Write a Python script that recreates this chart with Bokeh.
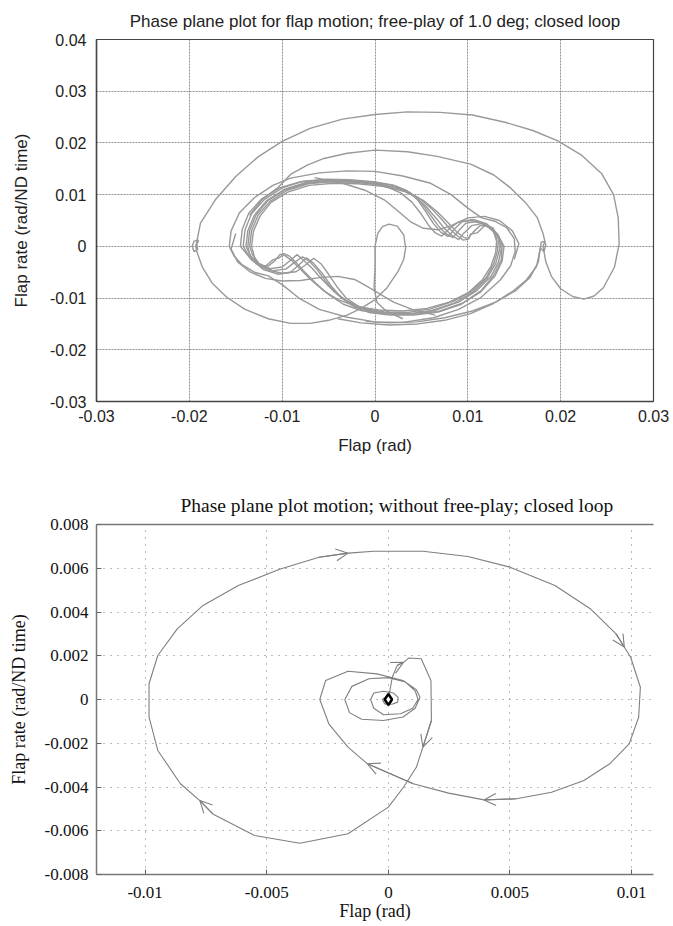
from bokeh.plotting import figure
from bokeh.layouts import column
from bokeh.models import FixedTicker, LinearAxis, Arrow, OpenHead, CustomJSTickFormatter
from bokeh.embed import file_html
from bokeh.resources import INLINE

# ---------------- text ----------------
TOP_TITLE = "Phase plane plot for flap motion; free-play of 1.0 deg; closed loop"
BOT_TITLE = "Phase plane plot motion; without free-play; closed loop"
X_LABEL = "Flap (rad)"
Y_LABEL = "Flap rate (rad/ND time)"

# ---------------- ticks ----------------
TOP_X_TICKS = [-0.03, -0.02, -0.01, 0.0, 0.01, 0.02, 0.03]
TOP_X_LABELS = ["-0.03", "-0.02", "-0.01", "0", "0.01", "0.02", "0.03"]
TOP_Y_TICKS = [-0.03, -0.02, -0.01, 0.0, 0.01, 0.02, 0.03, 0.04]
TOP_Y_LABELS = ["-0.03", "-0.02", "-0.01", "0", "0.01", "0.02", "0.03", "0.04"]
BOT_X_TICKS = [-0.01, -0.005, 0.0, 0.005, 0.01]
BOT_X_LABELS = ["-0.01", "-0.005", "0", "0.005", "0.01"]
BOT_Y_TICKS = [-0.008, -0.006, -0.004, -0.002, 0.0, 0.002, 0.004, 0.006, 0.008]
BOT_Y_LABELS = ["-0.008", "-0.006", "-0.004", "-0.002", "0", "0.002", "0.004", "0.006", "0.008"]

# ---------------- top plot: trajectory pieces (flap, flap rate) ----------------
# lower-left arc coming out of the centre loop to the left turning point
ARC_C_X = [0.0030, 0.0012, 0.0002, -0.0001, 0.0000, 0.0000, 0.0003, 0.0008, 0.0015, 0.0024, 0.0031,
           0.0033, 0.0031, 0.0025, 0.0013, 0.0000, -0.0015, -0.0030, -0.0050, -0.0070, -0.0091,
           -0.0115, -0.0140, -0.0160, -0.0175, -0.0186, -0.0192, -0.0193, -0.0190, -0.0195, -0.0197,
           -0.0195, -0.0191, -0.0192, -0.0193]
ARC_C_Y = [-0.0140, -0.0125, -0.0108, -0.0080, -0.0040, 0.0000, 0.0025, 0.0038, 0.0043, 0.0039, 0.0022,
           -0.0003, -0.0025, -0.0048, -0.0080, -0.0103, -0.0120, -0.0133, -0.0143, -0.0149, -0.0149,
           -0.0140, -0.0122, -0.0098, -0.0072, -0.0040, -0.0010, 0.0000, 0.0012, 0.0010, 0.0000,
           -0.0010, -0.0006, 0.0005, 0.0000]
# big outer excursion
ARC_A_X = [-0.0193, -0.0188, -0.0172, -0.0150, -0.0126, -0.0100, -0.0070, -0.0035, 0.0000, 0.0035,
           0.0070, 0.0105, 0.0140, 0.0170, 0.0197, 0.0222, 0.0244, 0.0257, 0.0262, 0.0263, 0.0258,
           0.0246, 0.0236, 0.0225, 0.0213, 0.0200, 0.0190, 0.0184, 0.0181, 0.0183, 0.0179, 0.0178,
           0.0174, 0.0163, 0.0149, 0.0128, 0.0103, 0.0075, 0.0046, 0.0015, -0.0015, -0.0040]
ARC_A_Y = [0.0000, 0.0045, 0.0090, 0.0135, 0.0173, 0.0203, 0.0228, 0.0246, 0.0255, 0.0260,
           0.0259, 0.0254, 0.0240, 0.0224, 0.0204, 0.0177, 0.0141, 0.0100, 0.0055, 0.0005, -0.0040,
           -0.0080, -0.0096, -0.0102, -0.0097, -0.0082, -0.0058, -0.0030, 0.0000, 0.0010, 0.0008, -0.0005,
           -0.0039, -0.0065, -0.0086, -0.0110, -0.0130, -0.0143, -0.0150, -0.0152, -0.0148, -0.0140]
# second large arc
ARC_B_X = [-0.0135, -0.0122, -0.0105, -0.0091, -0.0073, -0.0055, -0.0030, 0.0000, 0.0035, 0.0067,
           0.0103, 0.0128, 0.0146, 0.0162, 0.0175, 0.0181, 0.0184, 0.0182, 0.0178, 0.0176, 0.0167,
           0.0152, 0.0130, 0.0105, 0.0075, 0.0045, 0.0015, -0.0010]
ARC_B_Y = [0.0060, 0.0090, 0.0113, 0.0139, 0.0157, 0.0170, 0.0180, 0.0186, 0.0183, 0.0174,
           0.0159, 0.0138, 0.0113, 0.0085, 0.0055, 0.0025, 0.0002, -0.0010, -0.0003, -0.0030, -0.0060,
           -0.0085, -0.0108, -0.0125, -0.0138, -0.0146, -0.0148, -0.0145]
# wider loop around the band
LOOP_W_X = [-0.0157, -0.0155, -0.0146, -0.0130, -0.0110, -0.0091, -0.0060, -0.0030, 0.0000, 0.0030,
            0.0060, 0.0082, 0.0100, 0.0115, 0.0130, 0.0142, 0.0150, 0.0151, 0.0146, 0.0135, 0.0114,
            0.0090, 0.0063, 0.0030, 0.0000, -0.0030, -0.0060, -0.0082, -0.0100, -0.0115, -0.0130,
            -0.0143, -0.0152, -0.0157]
LOOP_W_Y = [0.0000, 0.0030, 0.0065, 0.0094, 0.0118, 0.0132, 0.0142, 0.0146, 0.0145, 0.0136,
            0.0122, 0.0100, 0.0074, 0.0055, 0.0048, 0.0036, 0.0015, -0.0010, -0.0038, -0.0065, -0.0099,
            -0.0122, -0.0138, -0.0147, -0.0146, -0.0137, -0.0122, -0.0100, -0.0074, -0.0057, -0.0050,
            -0.0036, -0.0018, 0.0000]
# thin cross-over curves
CROSS_LO_X = [-0.0150, -0.0155, -0.0148, -0.0134, -0.0118, -0.0100, -0.0080, -0.0058, -0.0040,
              -0.0022, -0.0008, 0.0005, 0.0020, 0.0040, 0.0065]
CROSS_LO_Y = [0.0025, -0.0005, -0.0030, -0.0050, -0.0062, -0.0067, -0.0066, -0.0060, -0.0058,
              -0.0064, -0.0078, -0.0092, -0.0108, -0.0122, -0.0133]
CROSS_HI_X = [0.0150, 0.0155, 0.0148, 0.0134, 0.0118, 0.0100, 0.0082, 0.0068, 0.0052, 0.0038,
              0.0025, 0.0010, -0.0010, -0.0035, -0.0065]
CROSS_HI_Y = [-0.0025, 0.0005, 0.0030, 0.0050, 0.0058, 0.0055, 0.0040, 0.0032, 0.0035, 0.0048,
              0.0068, 0.0090, 0.0108, 0.0122, 0.0133]

# dense limit-cycle band: successive cycles
BAND1_X = [-0.0139, -0.0137, -0.0130, -0.0117, -0.0098, -0.0075, -0.0050, -0.0025, 0.0000, 0.0022, 0.0038,
           0.0050, 0.0060, 0.0068, 0.0076, 0.0084, 0.0090, 0.0098, 0.0110, 0.0124, 0.0133, 0.0136, 0.0133,
           0.0125, 0.0110, 0.0090, 0.0065, 0.0040, 0.0015, -0.0008, -0.0025, -0.0040, -0.0052, -0.0062,
           -0.0070, -0.0078, -0.0086, -0.0096, -0.0110, -0.0124, -0.0134, -0.0139]
BAND1_Y = [0.0000, 0.0030, 0.0060, 0.0088, 0.0110, 0.0123, 0.0128, 0.0127, 0.0124, 0.0117, 0.0104,
           0.0084, 0.0060, 0.0040, 0.0025, 0.0017, 0.0030, 0.0045, 0.0048, 0.0038, 0.0018, -0.0005, -0.0030,
           -0.0058, -0.0085, -0.0108, -0.0123, -0.0130, -0.0130, -0.0124, -0.0112, -0.0094, -0.0070, -0.0046,
           -0.0030, -0.0020, -0.0030, -0.0044, -0.0047, -0.0037, -0.0018, 0.0000]
BAND2_X = [-0.0135, -0.0133, -0.0126, -0.0113, -0.0095, -0.0072, -0.0048, -0.0022, 0.0003, 0.0025, 0.0042,
           0.0055, 0.0066, 0.0075, 0.0083, 0.0090, 0.0096, 0.0104, 0.0115, 0.0126, 0.0131, 0.0132, 0.0128,
           0.0120, 0.0105, 0.0085, 0.0060, 0.0035, 0.0010, -0.0012, -0.0030, -0.0045, -0.0058, -0.0068,
           -0.0077, -0.0084, -0.0091, -0.0100, -0.0113, -0.0125, -0.0132, -0.0135]
BAND2_Y = [0.0000, 0.0030, 0.0060, 0.0087, 0.0108, 0.0121, 0.0126, 0.0125, 0.0121, 0.0113, 0.0098,
           0.0077, 0.0054, 0.0034, 0.0021, 0.0013, 0.0026, 0.0040, 0.0044, 0.0034, 0.0015, -0.0008, -0.0033,
           -0.0060, -0.0086, -0.0106, -0.0121, -0.0128, -0.0127, -0.0120, -0.0106, -0.0086, -0.0062, -0.0042,
           -0.0027, -0.0016, -0.0027, -0.0040, -0.0043, -0.0033, -0.0016, 0.0000]
BAND3_X = [-0.0142, -0.0140, -0.0133, -0.0119, -0.0100, -0.0077, -0.0052, -0.0027, -0.0002, 0.0019, 0.0034,
           0.0046, 0.0055, 0.0063, 0.0071, 0.0079, 0.0086, 0.0094, 0.0106, 0.0120, 0.0132, 0.0139, 0.0137,
           0.0129, 0.0114, 0.0093, 0.0068, 0.0042, 0.0016, -0.0006, -0.0022, -0.0036, -0.0047, -0.0057,
           -0.0066, -0.0074, -0.0082, -0.0091, -0.0104, -0.0120, -0.0134, -0.0142]
BAND3_Y = [0.0000, 0.0032, 0.0063, 0.0091, 0.0113, 0.0126, 0.0130, 0.0129, 0.0125, 0.0119, 0.0108,
           0.0090, 0.0066, 0.0044, 0.0027, 0.0019, 0.0034, 0.0048, 0.0052, 0.0044, 0.0024, 0.0000, -0.0028,
           -0.0058, -0.0088, -0.0112, -0.0127, -0.0133, -0.0133, -0.0128, -0.0117, -0.0100, -0.0077, -0.0052,
           -0.0033, -0.0022, -0.0036, -0.0050, -0.0054, -0.0045, -0.0024, 0.0000]
BAND4_X = [-0.0137, -0.0135, -0.0128, -0.0115, -0.0096, -0.0073, -0.0047, -0.0020, 0.0006, 0.0029, 0.0047,
           0.0061, 0.0072, 0.0081, 0.0089, 0.0095, 0.0101, 0.0103, 0.0110, 0.0118, 0.0127, 0.0133, 0.0134,
           0.0130, 0.0121, 0.0106, 0.0085, 0.0060, 0.0034, 0.0008, -0.0015, -0.0034, -0.0050, -0.0064,
           -0.0076, -0.0085, -0.0092, -0.0098, -0.0103, -0.0110, -0.0119, -0.0128, -0.0135, -0.0137]
BAND4_Y = [0.0000, 0.0031, 0.0061, 0.0089, 0.0110, 0.0122, 0.0125, 0.0124, 0.0119, 0.0110, 0.0094,
           0.0073, 0.0052, 0.0033, 0.0020, 0.0012, 0.0014, 0.0024, 0.0026, 0.0040, 0.0036, 0.0017, -0.0007,
           -0.0033, -0.0061, -0.0088, -0.0110, -0.0125, -0.0131, -0.0130, -0.0124, -0.0112, -0.0093, -0.0071,
           -0.0049, -0.0031, -0.0019, -0.0014, -0.0022, -0.0026, -0.0040, -0.0034, -0.0016, 0.0000]
BAND5_X = [-0.0145, -0.0143, -0.0136, -0.0122, -0.0103, -0.0080, -0.0055, -0.0030, -0.0006, 0.0013, 0.0028,
           0.0040, 0.0050, 0.0058, 0.0065, 0.0072, 0.0080, 0.0090, 0.0103, 0.0118, 0.0130, 0.0137, 0.0136,
           0.0128, 0.0114, 0.0094, 0.0070, 0.0045, 0.0020, -0.0002, -0.0018, -0.0031, -0.0041, -0.0050,
           -0.0058, -0.0066, -0.0075, -0.0085, -0.0100, -0.0117, -0.0133, -0.0145]
BAND5_Y = [0.0000, 0.0033, 0.0064, 0.0092, 0.0113, 0.0125, 0.0128, 0.0127, 0.0122, 0.0115, 0.0103,
           0.0085, 0.0062, 0.0040, 0.0026, 0.0020, 0.0034, 0.0047, 0.0050, 0.0043, 0.0025, 0.0002, -0.0026,
           -0.0056, -0.0086, -0.0110, -0.0125, -0.0131, -0.0131, -0.0126, -0.0116, -0.0100, -0.0078, -0.0054,
           -0.0034, -0.0023, -0.0036, -0.0049, -0.0052, -0.0045, -0.0026, 0.0000]
BAND6_X = [-0.0133, -0.0131, -0.0124, -0.0112, -0.0094, -0.0071, -0.0045, -0.0018, 0.0008, 0.0032, 0.0052,
           0.0067, 0.0079, 0.0088, 0.0095, 0.0100, 0.0106, 0.0113, 0.0122, 0.0128, 0.0131, 0.0130, 0.0125,
           0.0116, 0.0101, 0.0080, 0.0056, 0.0030, 0.0004, -0.0020, -0.0040, -0.0056, -0.0070, -0.0081,
           -0.0090, -0.0097, -0.0102, -0.0108, -0.0115, -0.0123, -0.0129, -0.0133]
BAND6_Y = [0.0000, 0.0029, 0.0058, 0.0085, 0.0105, 0.0118, 0.0122, 0.0121, 0.0116, 0.0106, 0.0089,
           0.0067, 0.0045, 0.0028, 0.0018, 0.0015, 0.0028, 0.0040, 0.0040, 0.0028, 0.0010, -0.0012, -0.0038,
           -0.0064, -0.0089, -0.0108, -0.0120, -0.0125, -0.0123, -0.0116, -0.0103, -0.0085, -0.0063, -0.0043,
           -0.0027, -0.0018, -0.0015, -0.0028, -0.0038, -0.0038, -0.0026, 0.0000]

TOP_XS = [ARC_C_X, ARC_A_X, ARC_B_X, LOOP_W_X, CROSS_LO_X, CROSS_HI_X,
          BAND1_X, BAND2_X, BAND3_X, BAND4_X, BAND5_X, BAND6_X]
TOP_YS = [ARC_C_Y, ARC_A_Y, ARC_B_Y, LOOP_W_Y, CROSS_LO_Y, CROSS_HI_Y,
          BAND1_Y, BAND2_Y, BAND3_Y, BAND4_Y, BAND5_Y, BAND6_Y]

# ---------------- bottom plot: single trajectory (flap, flap rate) ----------------
BOT_X = [0.0, 0.00016, 0.00036, 0.00062, 0.00085, 0.00135, 0.00175, 0.00177, 0.00142, 0.00115,
         0.00062, 0.0, -0.00166, -0.00364, -0.00550, -0.00722, -0.00775, -0.00855, -0.00948, -0.00984,
         -0.00984, -0.00948, -0.00868, -0.00762, -0.00617, -0.00444, -0.00285, -0.00166, -0.00060, 0.00142,
         0.00327, 0.00500, 0.00685, 0.00830, 0.00936, 0.00970, 0.00996, 0.01036, 0.01029, 0.00990,
         0.00910, 0.00804, 0.00671, 0.00526, 0.00393, 0.00248, 0.00102, -0.00086, -0.00166, -0.00245,
         -0.00282, -0.00258, -0.00166, -0.00047, 0.00060, 0.00115, 0.00130, 0.00110, 0.00060, -0.00020,
         -0.00110, -0.00160, -0.00179, -0.00150, -0.00080, 0.0, 0.00070, 0.00110, 0.00122, 0.00100,
         0.00050, -0.00020, -0.00060, -0.00073, -0.00060, -0.00020, 0.00020, 0.00040, 0.00038, 0.00015,
         -0.00015, -0.00025, -0.00010, 0.00010, 0.00012, 0.0]
BOT_Y = [0.0, 0.00102, 0.00155, 0.00170, 0.00190, 0.00186, 0.00087, -0.00096, -0.00218, -0.00310,
         -0.00401, -0.00492, -0.00614, -0.00657, -0.00622, -0.00523, -0.00462, -0.00385, -0.00233, -0.00081,
         0.00072, 0.00201, 0.00323, 0.00430, 0.00521, 0.00597, 0.00650, 0.00669, 0.00678, 0.00678,
         0.00654, 0.00605, 0.00521, 0.00415, 0.00300, 0.00240, 0.00193, 0.00056, -0.00081, -0.00203,
         -0.00294, -0.00370, -0.00424, -0.00454, -0.00459, -0.00428, -0.00385, -0.00294, -0.00218, -0.00111,
         0.0, 0.00087, 0.00129, 0.00117, 0.00087, 0.00045, 0.00010, -0.00040, -0.00080, -0.00096,
         -0.00090, -0.00060, 0.0, 0.00060, 0.00095, 0.00100, 0.00080, 0.00040, 0.0, -0.00040,
         -0.00065, -0.00070, -0.00040, 0.0, 0.00030, 0.00038, 0.00030, 0.00010, -0.00012, -0.00022,
         -0.00020, 0.0, 0.00012, 0.00010, -0.00005, -0.00008]
# indices of trajectory vertices that carry a direction arrow
ARROW_AT = [3, 8, 16, 27, 35, 44, 47]

# ---------------- styling ----------------
SANS = "Liberation Sans"
SERIF = "Liberation Serif"
TOP_LINE = "#999999"
BOT_LINE = "#7f7f7f"


def labeller(ticks, labels):
    return CustomJSTickFormatter(args=dict(t=ticks, l=labels), code="""
        let best = 0, d = Infinity;
        for (let i = 0; i < t.length; i++) {
            const e = Math.abs(t[i] - tick);
            if (e < d) { d = e; best = i; }
        }
        return l[best];
    """)


# ===== top figure =====
p1 = figure(width=673, height=458, x_range=(-0.03, 0.03), y_range=(-0.03, 0.04),
            output_backend="svg", toolbar_location=None, title=TOP_TITLE,
            min_border_left=96, min_border_right=20, min_border_top=39, min_border_bottom=57)
p1.title.text_font = SANS
p1.title.text_font_size = "17px"
p1.title.text_font_style = "normal"
p1.title.text_color = "#222222"
p1.title.align = "center"
p1.title.standoff = 17

p1.xaxis.ticker = FixedTicker(ticks=TOP_X_TICKS)
p1.yaxis.ticker = FixedTicker(ticks=TOP_Y_TICKS)
p1.xaxis.formatter = labeller(TOP_X_TICKS, TOP_X_LABELS)
p1.yaxis.formatter = labeller(TOP_Y_TICKS, TOP_Y_LABELS)
for ax in (p1.xaxis, p1.yaxis):
    ax.major_label_text_font = SANS
    ax.major_label_text_font_size = "16px"
    ax.major_label_text_color = "#222222"
    ax.axis_label_text_font = SANS
    ax.axis_label_text_font_size = "17px"
    ax.axis_label_text_font_style = "normal"
    ax.axis_label_text_color = "#222222"
    ax.major_tick_in = 0
    ax.major_tick_out = 0
    ax.minor_tick_in = 0
    ax.minor_tick_out = 0
    ax.axis_line_color = "#444444"
    ax.axis_line_width = 1.5
p1.xaxis.axis_label = X_LABEL
p1.yaxis.axis_label = Y_LABEL
p1.xaxis.major_label_standoff = 8
p1.xaxis.axis_label_standoff = 11
p1.yaxis.major_label_standoff = 10
p1.yaxis.axis_label_standoff = 16
p1.outline_line_color = "#444444"
p1.outline_line_width = 1.2
for g in (p1.xgrid, p1.ygrid):
    g.grid_line_color = "#666666"
    g.grid_line_dash = "2 1"
    g.grid_line_width = 0.8
    g.grid_line_alpha = 0.9

p1.multi_line(xs=TOP_XS, ys=TOP_YS, line_color=TOP_LINE, line_width=1.4)

# ===== bottom figure =====
p2 = figure(width=673, height=468, x_range=(-0.012, 0.0109), y_range=(-0.008, 0.008),
            output_backend="svg", toolbar_location=None, title=BOT_TITLE,
            min_border_left=96, min_border_right=0, min_border_top=66, min_border_bottom=52)
p2.title.text_font = SERIF
p2.title.text_font_size = "19.5px"
p2.title.text_font_style = "normal"
p2.title.text_color = "#111111"
p2.title.align = "left"
p2.title.offset = 84
p2.title.standoff = 18

# top frame edge (no ticks, no labels)
top_axis = LinearAxis(ticker=FixedTicker(ticks=[]), axis_line_color="#777777", axis_line_width=1.5,
                      major_tick_in=0, major_tick_out=0, minor_tick_in=0, minor_tick_out=0)
p2.add_layout(top_axis, "above")

bottom_axis = p2.below[0]
bottom_axis.ticker = FixedTicker(ticks=BOT_X_TICKS)
p2.yaxis.ticker = FixedTicker(ticks=BOT_Y_TICKS)
bottom_axis.formatter = labeller(BOT_X_TICKS, BOT_X_LABELS)
p2.yaxis.formatter = labeller(BOT_Y_TICKS, BOT_Y_LABELS)
for ax in [bottom_axis] + list(p2.left):
    ax.major_label_text_font = SERIF
    ax.major_label_text_font_size = "17px"
    ax.major_label_text_color = "#111111"
    ax.axis_label_text_font = SERIF
    ax.axis_label_text_font_size = "18px"
    ax.axis_label_text_font_style = "normal"
    ax.axis_label_text_color = "#111111"
    ax.major_tick_in = 5
    ax.major_tick_out = 0
    ax.minor_tick_in = 0
    ax.minor_tick_out = 0
    ax.major_tick_line_color = "#666666"
    ax.axis_line_color = "#777777"
    ax.axis_line_width = 1.5
bottom_axis.axis_label = X_LABEL
p2.yaxis.axis_label = Y_LABEL
bottom_axis.major_label_standoff = 12
bottom_axis.axis_label_standoff = 0
p2.yaxis.major_label_standoff = 8
p2.yaxis.axis_label_standoff = 13
p2.outline_line_color = None
for g in (p2.xgrid, p2.ygrid):
    g.grid_line_color = "#777777"
    g.grid_line_dash = "1 6"
    g.grid_line_width = 1
p2.xgrid.ticker = FixedTicker(ticks=BOT_X_TICKS)

p2.line(BOT_X, BOT_Y, line_color=BOT_LINE, line_width=1.1)
for i in ARROW_AT:
    p2.add_layout(Arrow(end=OpenHead(size=12, line_color=BOT_LINE, line_width=1.1),
                        x_start=BOT_X[i - 1], y_start=BOT_Y[i - 1],
                        x_end=BOT_X[i], y_end=BOT_Y[i],
                        line_color=BOT_LINE, line_width=1.1))
p2.scatter(x=[BOT_X[0]], y=[BOT_Y[0]], marker="diamond", size=11,
           fill_color="white", line_color="black", line_width=2.5)

layout = column(p1, p2, spacing=0)
open("out.html", "w").write(file_html(layout, INLINE))
